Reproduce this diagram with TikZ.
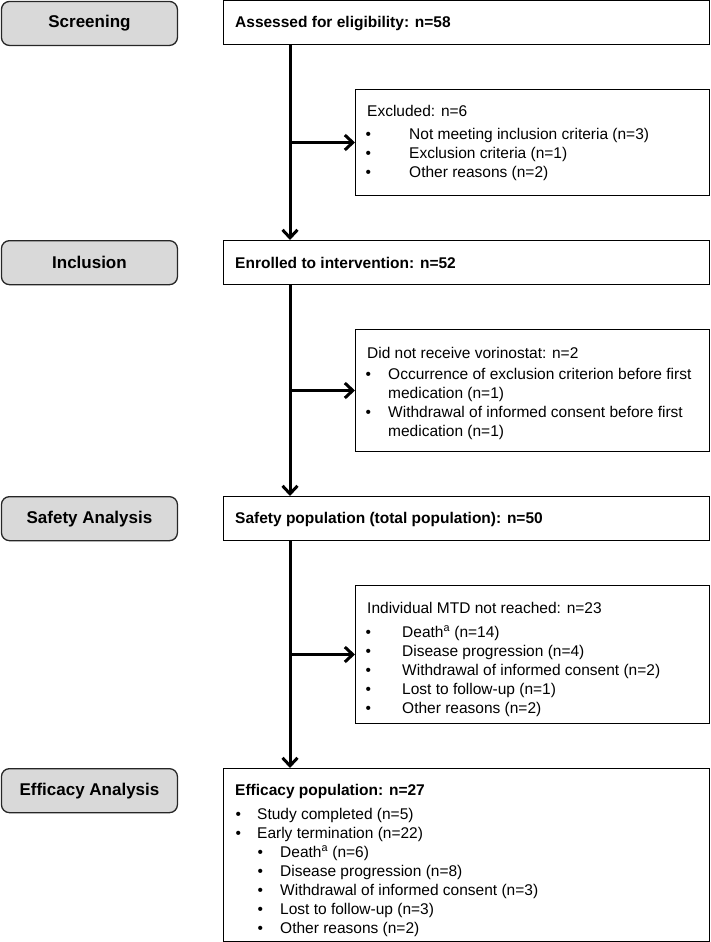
\documentclass[tikz,border=0pt]{standalone}
\usepackage{fontspec}
\setmainfont{Liberation Sans}
\usetikzlibrary{arrows.meta}
\begin{document}
\begin{tikzpicture}[x=1pt,y=-1pt,
  phase/.style={draw=black!85, line width=1.3pt, fill=black!15, rounded corners=8pt,
    anchor=north west, inner sep=0pt, minimum width=176pt, minimum height=44pt,
    font=\fontsize{17}{20}\selectfont\bfseries},
  box/.style={draw=black, line width=1pt, anchor=north west, inner sep=0pt},
  txt/.style={anchor=base west, inner sep=0pt, font=\fontsize{15.5}{19}\selectfont},
  ttl/.style={anchor=base west, inner sep=0pt, font=\fontsize{15.5}{19}\selectfont\bfseries},
  conn/.style={line width=3pt, -{Straight Barb[length=8pt,width=15pt]}}]
\useasboundingbox (0,0) rectangle (710,942);

% phase boxes
\node[phase] (p1) at (0.8,0.8) {Screening};
\node[phase] (p2) at (0.8,240) {Inclusion};
\node[phase] (p3) at (0.8,496) {Safety Analysis};
\node[phase] (p4) at (0.8,768) {Efficacy Analysis};

% main boxes
\node[box, minimum width=486pt, minimum height=43.5pt] (assess) at (223,0.5) {};
\node[box, minimum width=486pt, minimum height=44pt] (enrol) at (223,240) {};
\node[box, minimum width=486pt, minimum height=44pt] (safe) at (223,496) {};
\node[box, minimum width=486pt, minimum height=173pt] (eff) at (223,768) {};

% side boxes
\node[box, minimum width=354pt, minimum height=106pt] (excl) at (355,89) {};
\node[box, minimum width=354pt, minimum height=122pt] (dnr) at (355,329) {};
\node[box, minimum width=354pt, minimum height=138pt] (mtd) at (355,585) {};

% texts
\node[ttl] (a0) at (235,28) {Assessed for eligibility: n=58};

\node[txt] (e0) at (367,116) {Excluded: n=6};
\node[txt] (e1) at (365.3,139) {\makebox[43.7pt][l]{\textbullet}Not meeting inclusion criteria (n=3)};
\node[txt] (e2) at (365.3,158) {\makebox[43.7pt][l]{\textbullet}Exclusion criteria (n=1)};
\node[txt] (e3) at (365.3,177) {\makebox[43.7pt][l]{\textbullet}Other reasons (n=2)};

\node[ttl] (n0) at (235,268) {Enrolled to intervention: n=52};

\node[txt] (d0) at (367,358) {Did not receive vorinostat: n=2};
\node[txt] (d1) at (365.3,379) {\makebox[22.7pt][l]{\textbullet}Occurrence of exclusion criterion before first};
\node[txt] (d2) at (388,398) {medication (n=1)};
\node[txt] (d3) at (365.3,417) {\makebox[22.7pt][l]{\textbullet}Withdrawal of informed consent before first};
\node[txt] (d4) at (388,436) {medication (n=1)};

\node[ttl] (s0) at (235,523) {Safety population (total population): n=50};

\node[txt] (m0) at (367,613) {Individual MTD not reached: n=23};
\node[txt] (m1) at (365.3,637) {\makebox[36.7pt][l]{\textbullet}Death\textsuperscript{a} (n=14)};
\node[txt] (m2) at (365.3,656) {\makebox[36.7pt][l]{\textbullet}Disease progression (n=4)};
\node[txt] (m3) at (365.3,675) {\makebox[36.7pt][l]{\textbullet}Withdrawal of informed consent (n=2)};
\node[txt] (m4) at (365.3,694) {\makebox[36.7pt][l]{\textbullet}Lost to follow-up (n=1)};
\node[txt] (m5) at (365.3,713) {\makebox[36.7pt][l]{\textbullet}Other reasons (n=2)};

\node[ttl] (f0) at (235,795) {Efficacy population: n=27};
\node[txt] (f1) at (235.3,819) {\makebox[21.7pt][l]{\textbullet}Study completed (n=5)};
\node[txt] (f2) at (235.3,838) {\makebox[21.7pt][l]{\textbullet}Early termination (n=22)};
\node[txt] (f3) at (257.3,857) {\makebox[22.7pt][l]{\textbullet}Death\textsuperscript{a} (n=6)};
\node[txt] (f4) at (257.3,876) {\makebox[22.7pt][l]{\textbullet}Disease progression (n=8)};
\node[txt] (f5) at (257.3,895) {\makebox[22.7pt][l]{\textbullet}Withdrawal of informed consent (n=3)};
\node[txt] (f6) at (257.3,914) {\makebox[22.7pt][l]{\textbullet}Lost to follow-up (n=3)};
\node[txt] (f7) at (257.3,933) {\makebox[22.7pt][l]{\textbullet}Other reasons (n=2)};

% trunk
\coordinate (t0) at ([xshift=67pt]assess.south west);
\coordinate (t1) at ([xshift=67pt]enrol.south west);
\coordinate (t2) at ([xshift=67pt]safe.south west);
\draw[conn] (t0) -- (t0 |- enrol.north);
\draw[conn] (t1) -- (t1 |- safe.north);
\draw[conn] (t2) -- (t2 |- eff.north);
\draw[conn] (t0 |- excl.west) -- (excl.west);
\draw[conn] (t1 |- dnr.west) -- (dnr.west);
\draw[conn] (t2 |- mtd.west) -- (mtd.west);
\end{tikzpicture}
\end{document}
